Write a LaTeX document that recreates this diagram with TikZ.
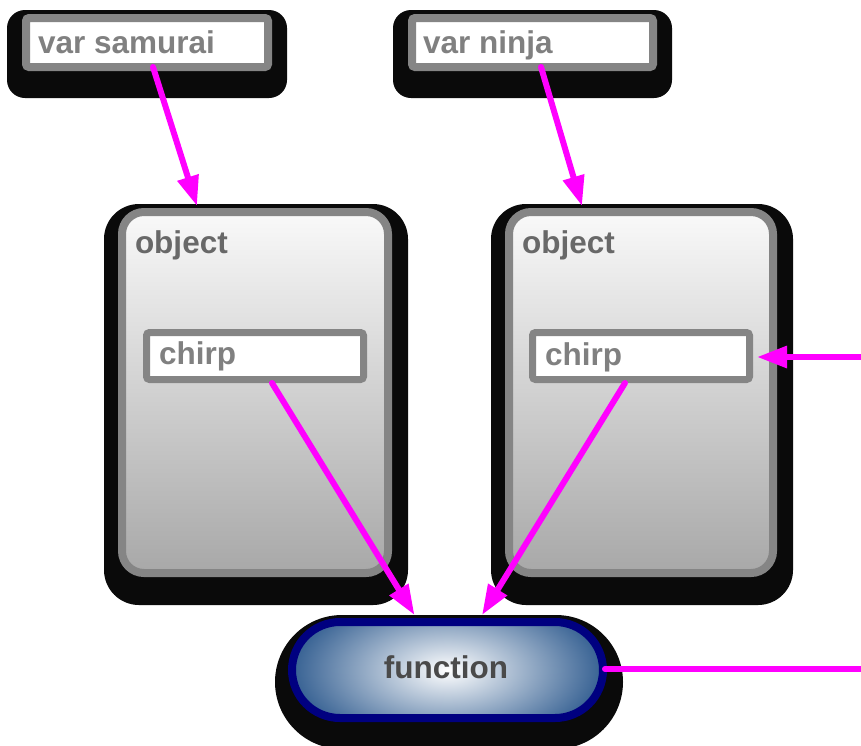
\documentclass[tikz,border=0pt]{standalone}
\usepackage{fontspec}
\setmainfont{Liberation Sans}
\usetikzlibrary{arrows.meta,calc}
\definecolor{bordergray}{HTML}{858585}
\definecolor{labelgray}{HTML}{808080}
\definecolor{objgray}{HTML}{686868}
\definecolor{fungray}{HTML}{4A4A4A}
\definecolor{shadowc}{HTML}{0A0A0A}
\definecolor{navyc}{HTML}{000080}
\definecolor{funblue}{HTML}{1D4D85}
\definecolor{magentaline}{HTML}{FF00FF}
\definecolor{objtop}{HTML}{F9F9F9}
\definecolor{objbot}{HTML}{A8A8A8}
\pgfdeclarelayer{shadowlayer}
\pgfsetlayers{shadowlayer,main}
\begin{document}
\begin{tikzpicture}[x=1pt,y=-1pt,
  every node/.style={outer sep=0pt, inner sep=0pt},
  varbox/.style={draw=bordergray, line width=8pt, fill=white, rounded corners=3pt, minimum height=49pt},
  objbox/.style={draw=bordergray, line width=8pt, top color=objtop, bottom color=objbot, rounded corners=22pt, minimum width=266pt, minimum height=361pt},
  chirpbox/.style={draw=bordergray, line width=7pt, fill=white, rounded corners=3pt, minimum width=217pt, minimum height=47pt},
  funbox/.style={draw=navyc, line width=8pt, rounded corners=48pt, minimum width=311pt, minimum height=96pt,
    path picture={\shade[inner color=white, outer color=funblue] (path picture bounding box.center) ellipse [x radius=175pt, y radius=90pt];}},
  lab/.style={font=\fontsize{31.5}{36}\selectfont\bfseries, anchor=base west, text=labelgray},
  link/.style={draw=magentaline, line width=6pt, line cap=round, -{Triangle[length=30pt,width=21pt]}},
  shadowbox/.style={fill=shadowc}
]
\useasboundingbox (0,0) rectangle (861,745);

\node[varbox, minimum width=242pt] (samurai) at (147,42.5) {};
\node[varbox, minimum width=241pt] (ninja) at (532.5,42.5) {};
\node[objbox] (objL) at (255,392.5) {};
\node[objbox, minimum width=264pt] (objR) at (641,392.5) {};
\node[chirpbox] (chirpL) at (255,356) {};
\node[chirpbox] (chirpR) at (641,356) {};
\node[funbox] (func) at (447.5,670) {};

\node[lab] (tsam) at (38,53) {var samurai};
\node[lab] (tnin) at (423,53) {var ninja};
\node[lab, text=objgray] (tobjL) at (135,253) {object};
\node[lab, text=objgray] (tobjR) at (522,253) {object};
\node[lab] (tchL) at (159,364) {chirp};
\node[lab] (tchR) at (545,365) {chirp};
\node[lab, anchor=base, text=fungray] (tfun) at (446,678) {function};

\begin{pgfonlayer}{shadowlayer}
\fill[shadowbox, rounded corners=18pt] ($(samurai.north west)+(-19,-8)$) rectangle ($(samurai.south east)+(19,31)$);
\fill[shadowbox, rounded corners=18pt] ($(ninja.north west)+(-19,-8)$) rectangle ($(ninja.south east)+(19,31)$);
\fill[shadowbox, rounded corners=35pt] ($(objL.north west)+(-18,-8)$) rectangle ($(objL.south east)+(20,32)$);
\fill[shadowbox, rounded corners=35pt] ($(objR.north west)+(-18,-8)$) rectangle ($(objR.south east)+(20,32)$);
\fill[shadowbox, rounded corners=67pt] ($(func.north west)+(-17,-7)$) rectangle ($(func.south east)+(20,31)$);
\end{pgfonlayer}

\coordinate (inR) at (866,357);
\coordinate (outR) at (866,669);
\draw[link] ([xshift=6pt]samurai.south) -- ([xshift=-58pt,yshift=6pt]objL.north);
\draw[link] ([xshift=8.5pt]ninja.south) -- ([xshift=-59pt,yshift=6pt]objR.north);
\draw[link] ([xshift=17pt,yshift=-3.5pt]chirpL.south) -- ([xshift=-33pt,yshift=7pt]func.north);
\draw[link] ([xshift=-16pt,yshift=-3.5pt]chirpR.south) -- ([xshift=34.5pt,yshift=7pt]func.north);
\draw[link] (inR) -- ([xshift=7.5pt,yshift=-1pt]chirpR.east);
\draw[link, -] ([xshift=2pt,yshift=1pt]func.east) -- (outR);
\end{tikzpicture}
\end{document}
